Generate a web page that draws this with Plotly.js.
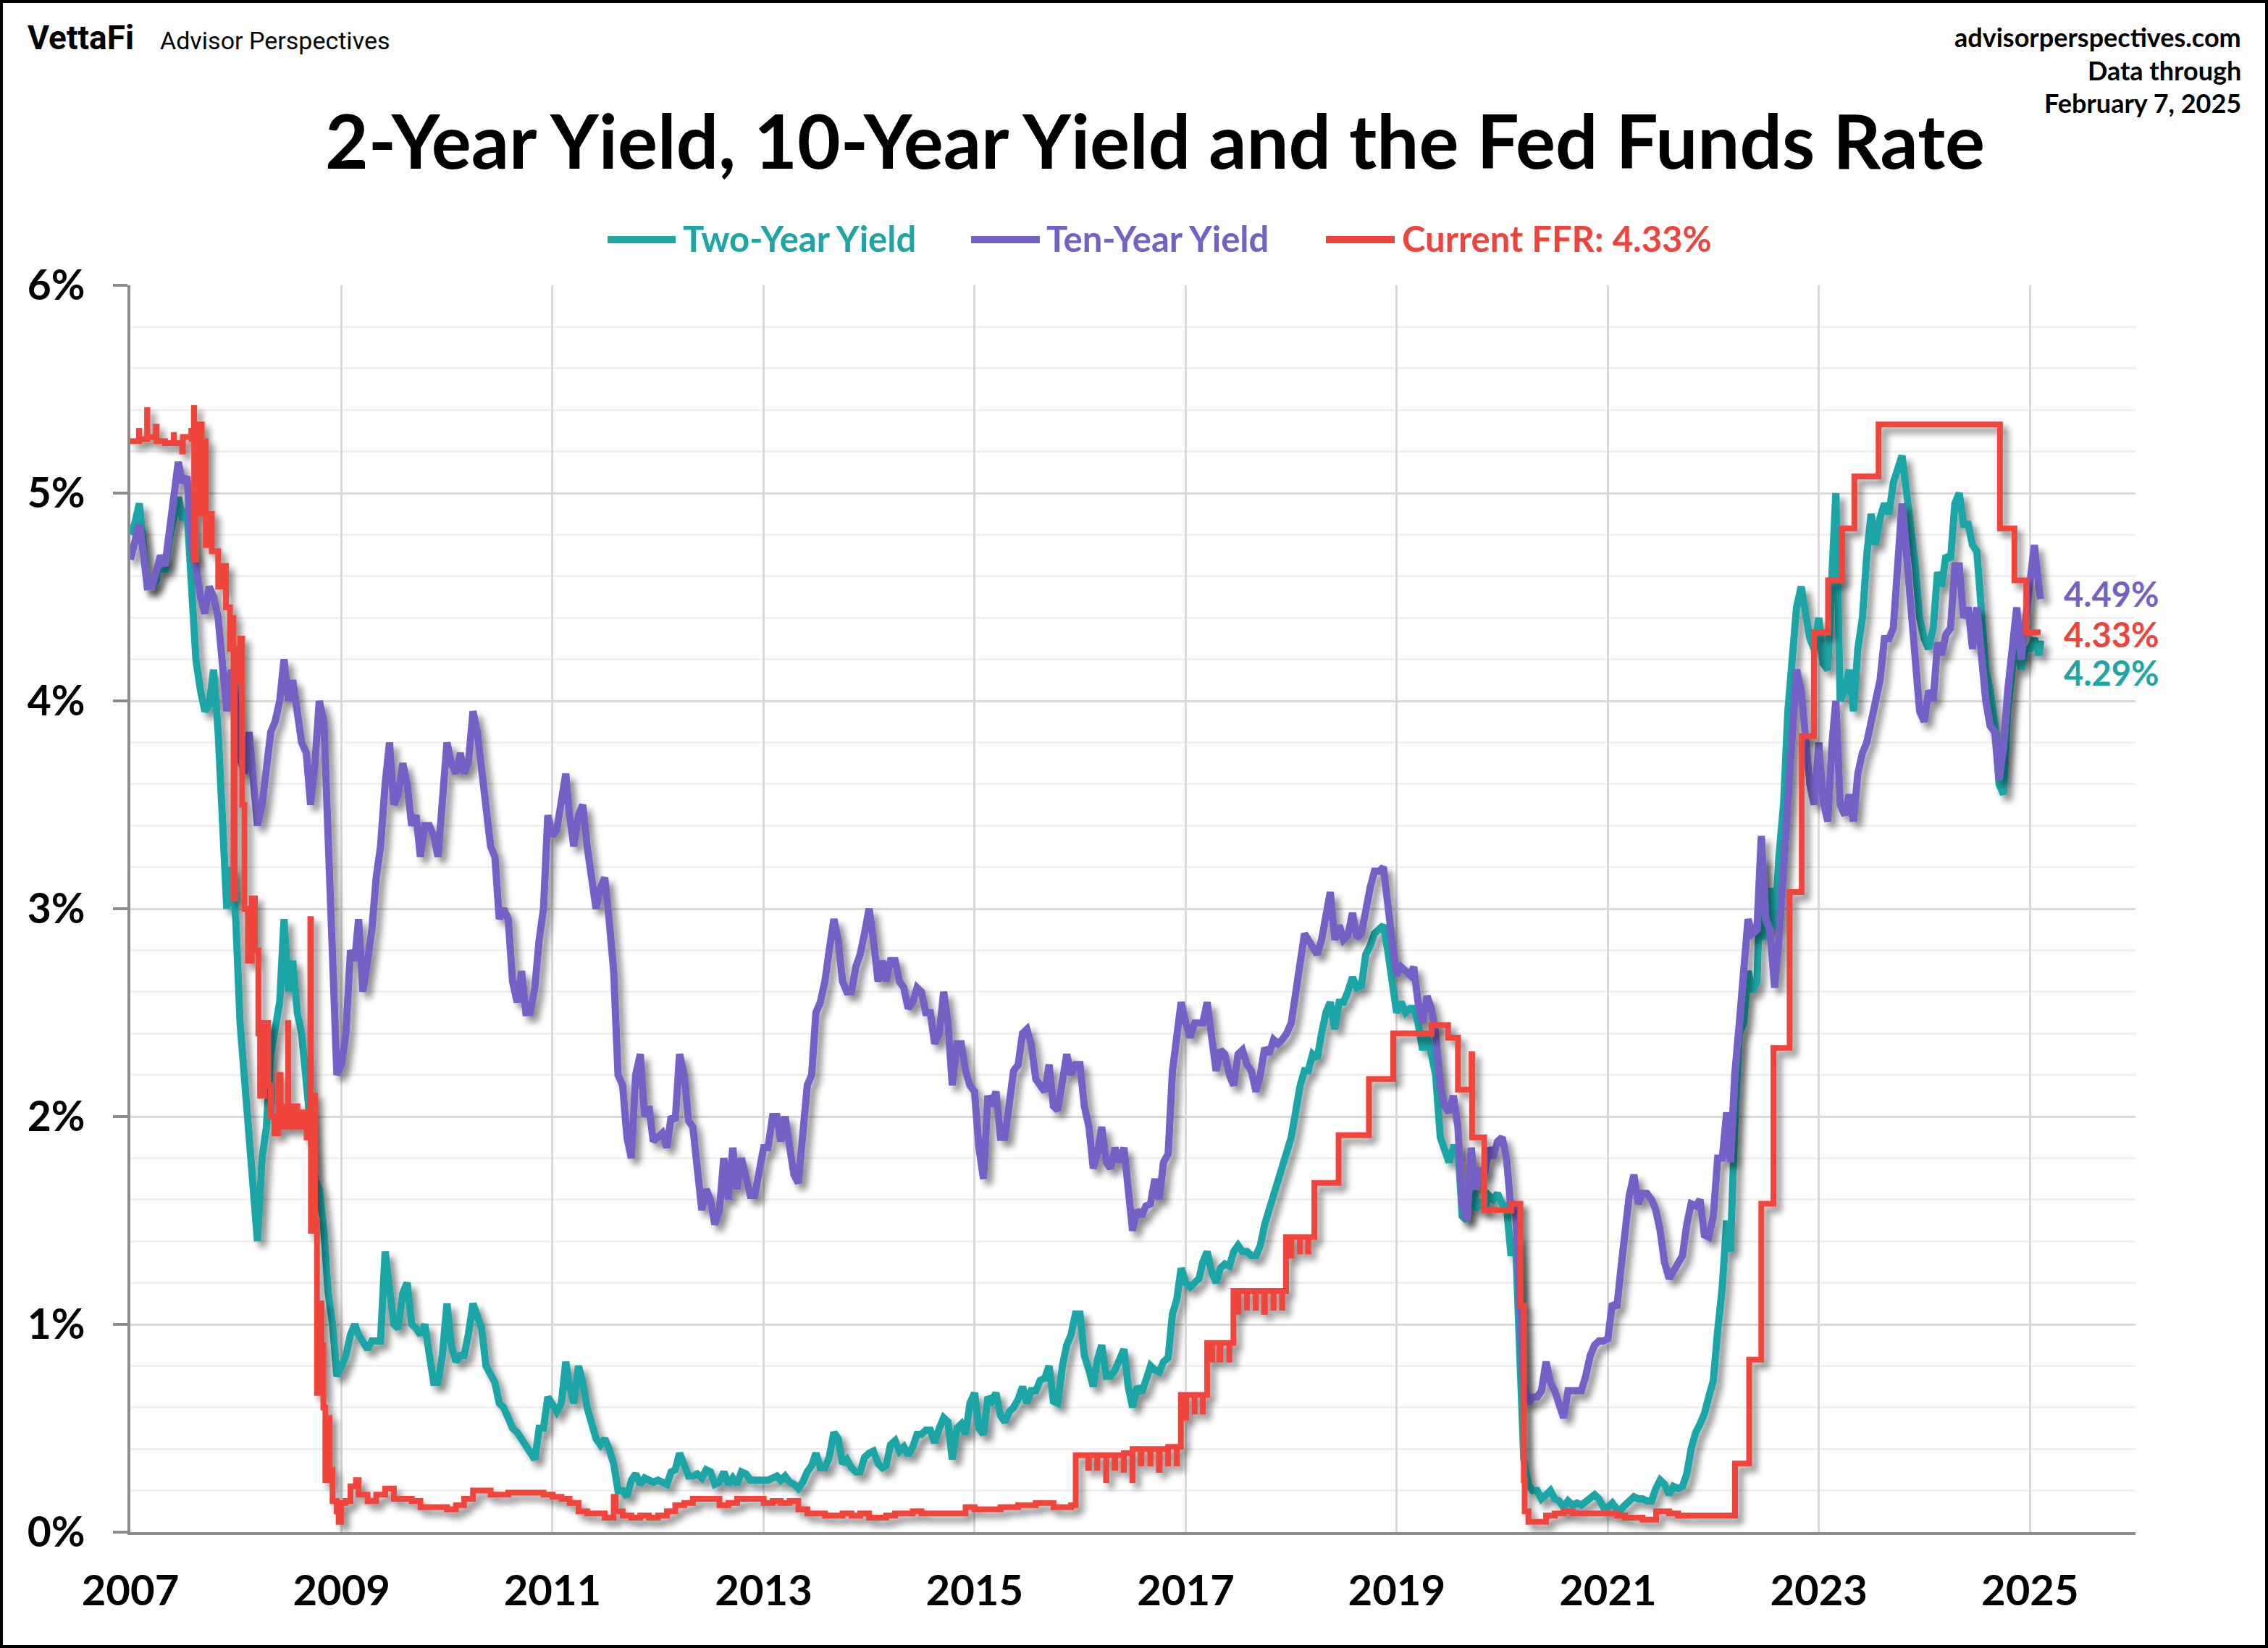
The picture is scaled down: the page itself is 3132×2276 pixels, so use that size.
<!DOCTYPE html>
<html>
<head>
<meta charset="utf-8">
<script src="https://cdn.plot.ly/plotly-3.0.1.min.js"></script>
<style>
  html, body { margin: 0; padding: 0; background: #fff; }
  #chart { width: 3132px; height: 2276px; }
  #frame { position: absolute; left: 0; top: 0; width: 3132px; height: 2276px;
           box-sizing: border-box; border: 4px solid #000; pointer-events: none; }
</style>
</head>
<body>
<div id="chart"></div>
<div id="frame"></div>
<script>
// Treasury yields sampled on the 1st and 16th of each month (last point: 2025-02-07), in percent.
const twoYearYield = [
  4.80,4.85, 4.95,4.75, 4.55,4.55, 4.58,4.70, 4.62,4.78, 4.90,4.98, 4.87,4.92, 4.55,4.20, 4.05,3.95, 3.98,4.15, 3.85,3.40, 3.00,3.20, // 2007
  2.95,2.45, 2.15,1.95, 1.65,1.40, 1.80,1.95, 2.30,2.45, 2.55,2.95, 2.60,2.75, 2.50,2.40, 2.20,1.95, 1.70,1.65, 1.45,1.15, 1.00,0.75, // 2008
  0.80,0.85, 0.95,1.00, 0.95,0.92, 0.88,0.92, 0.92,0.92, 1.35,1.20, 1.00,0.98, 1.15,1.20, 1.00,0.98, 0.95,1.00, 0.85,0.72, 0.72,0.85, // 2009
  1.10,0.90, 0.82,0.85, 0.85,0.95, 1.10,1.05, 0.98,0.80, 0.75,0.72, 0.62,0.60, 0.55,0.50, 0.48,0.45, 0.42,0.38, 0.35,0.50, 0.50,0.65, // 2010
  0.62,0.58, 0.62,0.82, 0.70,0.62, 0.80,0.72, 0.60,0.52, 0.45,0.42, 0.45,0.40, 0.33,0.20, 0.20,0.17, 0.25,0.28, 0.23,0.26, 0.25,0.24, // 2011
  0.25,0.24, 0.23,0.29, 0.30,0.38, 0.33,0.27, 0.27,0.28, 0.26,0.30, 0.29,0.23, 0.24,0.29, 0.23,0.26, 0.23,0.29, 0.28,0.25, 0.25,0.25, // 2012
  0.25,0.25, 0.26,0.27, 0.25,0.27, 0.24,0.23, 0.21,0.24, 0.29,0.32, 0.38,0.31, 0.31,0.36, 0.48,0.45, 0.33,0.35, 0.31,0.29, 0.29,0.36, // 2013
  0.38,0.39, 0.33,0.31, 0.32,0.42, 0.44,0.39, 0.41,0.37, 0.41,0.47, 0.47,0.49, 0.49,0.43, 0.50,0.55, 0.53,0.35, 0.50,0.52, 0.47,0.62, // 2014
  0.67,0.50, 0.47,0.65, 0.63,0.67, 0.56,0.53, 0.58,0.60, 0.64,0.70, 0.62,0.68, 0.68,0.73, 0.74,0.80, 0.63,0.62, 0.80,0.90, 0.95,1.05, // 2015
  1.05,0.85, 0.78,0.70, 0.83,0.90, 0.75,0.75, 0.78,0.82, 0.88,0.70, 0.60,0.70, 0.67,0.73, 0.80,0.78, 0.77,0.82, 0.84,1.05, 1.12,1.27, // 2016
  1.20,1.18, 1.20,1.22, 1.30,1.35, 1.25,1.20, 1.27,1.29, 1.28,1.35, 1.38,1.35, 1.35,1.33, 1.33,1.38, 1.48,1.55, 1.62,1.70, 1.78,1.84, // 2017
  1.90,2.02, 2.15,2.22, 2.22,2.30, 2.28,2.40, 2.50,2.55, 2.42,2.55, 2.55,2.60, 2.67,2.62, 2.63,2.78, 2.82,2.88, 2.90,2.92, 2.80,2.65, // 2018
  2.50,2.55, 2.50,2.52, 2.52,2.45, 2.32,2.40, 2.30,2.20, 1.90,1.85, 1.78,1.85, 1.85,1.52, 1.50,1.80, 1.55,1.60, 1.55,1.62, 1.60,1.63, // 2019
  1.58,1.57, 1.33,1.42, 0.90,0.35, 0.23,0.20, 0.20,0.16, 0.18,0.20, 0.16,0.15, 0.12,0.15, 0.13,0.14, 0.13,0.15, 0.16,0.18, 0.16,0.12, // 2020
  0.12,0.14, 0.11,0.11, 0.13,0.15, 0.17,0.16, 0.16,0.15, 0.15,0.21, 0.25,0.23, 0.18,0.22, 0.21,0.22, 0.28,0.40, 0.48,0.52, 0.57,0.65, // 2021
  0.73,0.97, 1.18,1.50, 1.35,1.95, 2.40,2.45, 2.70,2.60, 2.65,3.25, 2.85,3.10, 2.90,3.25, 3.50,3.95, 4.25,4.45, 4.55,4.40, 4.30,4.25, // 2022
  4.40,4.18, 4.15,4.62, 5.00,4.00, 4.05,4.15, 3.95,4.25, 4.40,4.70, 4.90,4.75, 4.88,4.95, 4.90,5.05, 5.12,5.18, 5.00,4.85, 4.65,4.40, // 2023
  4.30,4.25, 4.35,4.62, 4.55,4.70, 4.68,4.95, 5.00,4.85, 4.85,4.75, 4.72,4.45, 4.15,4.05, 3.90,3.60, 3.55,3.95, 4.20,4.35, 4.15,4.25, // 2024
  4.25,4.30, 4.22, 4.29 // 2025
];

const tenYearYield = [
  4.68,4.78, 4.85,4.70, 4.55,4.55, 4.62,4.70, 4.65,4.80, 4.95,5.15, 5.05,5.08, 4.75,4.65, 4.50,4.42, 4.55,4.50, 4.40,4.20, 3.95,4.15, // 2007
  4.02,3.72, 3.65,3.85, 3.60,3.40, 3.50,3.65, 3.85,3.90, 4.00,4.20, 4.00,4.10, 3.95,3.80, 3.75,3.50, 3.70,4.00, 3.90,3.40, 2.80,2.20, // 2008
  2.25,2.40, 2.80,2.75, 2.95,2.60, 2.75,2.90, 3.15,3.30, 3.60,3.80, 3.50,3.55, 3.70,3.60, 3.40,3.45, 3.25,3.40, 3.40,3.35, 3.25,3.55, // 2009
  3.80,3.70, 3.65,3.75, 3.65,3.70, 3.95,3.85, 3.65,3.45, 3.30,3.25, 2.95,3.00, 2.95,2.65, 2.55,2.70, 2.50,2.50, 2.62,2.85, 3.00,3.45, // 2010
  3.35,3.38, 3.50,3.65, 3.45,3.30, 3.45,3.50, 3.30,3.15, 3.00,3.10, 3.15,2.95, 2.70,2.20, 2.15,1.90, 1.80,2.20, 2.30,2.00, 2.05,1.88, // 2011
  1.90,1.92, 1.85,2.00, 1.98,2.30, 2.20,1.98, 1.95,1.75, 1.55,1.65, 1.60,1.48, 1.55,1.80, 1.60,1.85, 1.65,1.80, 1.70,1.62, 1.62,1.75, // 2012
  1.85,1.85, 2.00,2.00, 1.88,2.00, 1.85,1.72, 1.68,1.95, 2.15,2.20, 2.50,2.55, 2.65,2.80, 2.95,2.85, 2.65,2.60, 2.60,2.72, 2.78,2.88, // 2013
  3.00,2.85, 2.65,2.75, 2.65,2.75, 2.75,2.65, 2.62,2.52, 2.55,2.62, 2.60,2.50, 2.50,2.35, 2.40,2.60, 2.45,2.15, 2.35,2.35, 2.22,2.15, // 2014
  2.12,1.85, 1.70,2.10, 2.05,2.12, 1.90,1.90, 2.10,2.22, 2.25,2.40, 2.42,2.35, 2.18,2.15, 2.12,2.25, 2.05,2.03, 2.18,2.30, 2.20,2.25, // 2015
  2.25,2.05, 1.95,1.75, 1.82,1.95, 1.78,1.75, 1.85,1.78, 1.85,1.60, 1.45,1.55, 1.52,1.57, 1.58,1.70, 1.60,1.78, 1.82,2.22, 2.40,2.55, // 2016
  2.45,2.38, 2.45,2.45, 2.45,2.55, 2.38,2.22, 2.32,2.30, 2.20,2.15, 2.30,2.32, 2.25,2.22, 2.12,2.20, 2.33,2.30, 2.37,2.35, 2.37,2.40, // 2017
  2.45,2.60, 2.75,2.88, 2.85,2.82, 2.78,2.85, 2.98,3.08, 2.85,2.92, 2.85,2.87, 2.98,2.86, 2.88,3.00, 3.10,3.18, 3.18,3.20, 3.00,2.85, // 2018
  2.68,2.72, 2.70,2.68, 2.72,2.55, 2.45,2.58, 2.52,2.40, 2.15,2.05, 2.02,2.10, 1.95,1.58, 1.50,1.85, 1.65,1.75, 1.72,1.85, 1.80,1.88, // 2019
  1.90,1.80, 1.55,1.58, 1.15,0.72, 0.62,0.65, 0.65,0.68, 0.82,0.72, 0.68,0.62, 0.55,0.68, 0.68,0.68, 0.68,0.75, 0.85,0.90, 0.92,0.92, // 2020
  0.93,1.10, 1.08,1.28, 1.42,1.62, 1.72,1.58, 1.63,1.63, 1.60,1.55, 1.45,1.30, 1.22,1.26, 1.30,1.33, 1.48,1.58, 1.57,1.60, 1.43,1.42, // 2021
  1.52,1.80, 1.80,2.02, 1.78,2.20, 2.45,2.75, 2.95,2.88, 2.90,3.35, 2.95,2.90, 2.62,2.85, 3.20,3.60, 3.90,4.15, 4.05,3.78, 3.60,3.50, // 2022
  3.80,3.52, 3.42,3.80, 4.00,3.50, 3.45,3.55, 3.42,3.65, 3.75,3.80, 3.90,4.00, 4.10,4.30, 4.30,4.35, 4.65,4.95, 4.70,4.45, 4.25,3.95, // 2023
  3.90,4.05, 4.00,4.28, 4.22,4.32, 4.35,4.65, 4.65,4.40, 4.45,4.25, 4.45,4.20, 4.00,3.88, 3.85,3.62, 3.78,4.05, 4.30,4.45, 4.20,4.40, // 2024
  4.57,4.75, 4.55, 4.49 // 2025
];

const firstYear = 2007;
const lastDate = '2025-02-07';

// Effective fed funds rate: [date the level takes effect, rate], drawn as steps.
const fedFundsRate = [
  ['2007-01-01',5.25],['2007-01-31',5.30],['2007-02-01',5.26],['2007-02-28',5.40],['2007-03-01',5.27],['2007-03-30',5.32],
  ['2007-04-02',5.25],['2007-05-01',5.24],['2007-05-31',5.28],['2007-06-01',5.24],['2007-06-29',5.20],['2007-07-02',5.27],
  ['2007-07-31',5.30],['2007-08-01',5.26],['2007-08-09',5.41],['2007-08-10',4.68],['2007-08-15',5.05],['2007-08-22',4.90],
  ['2007-08-30',5.33],['2007-09-05',4.95],['2007-09-12',5.25],['2007-09-19',4.75],['2007-10-01',4.90],['2007-10-10',4.72],
  ['2007-11-01',4.55],['2007-11-13',4.65],['2007-11-28',4.45],['2007-12-12',4.25],['2007-12-21',4.40],['2007-12-24',3.05],
  ['2007-12-28',4.25],['2008-01-08',4.10],['2008-01-17',4.30],['2008-01-23',3.50],['2008-01-31',3.00],['2008-02-12',2.75],
  ['2008-02-25',3.05],['2008-03-07',2.80],['2008-03-19',2.40],['2008-03-25',2.10],['2008-04-08',2.45],['2008-04-22',2.15],
  ['2008-05-01',2.00],['2008-05-14',1.92],['2008-05-28',2.20],['2008-06-04',1.95],['2008-06-11',2.05],['2008-06-30',2.45],
  ['2008-07-01',1.95],['2008-07-16',2.05],['2008-08-01',1.95],['2008-08-20',2.02],['2008-09-02',1.90],['2008-09-15',2.95],
  ['2008-09-17',1.45],['2008-09-24',2.10],['2008-10-01',1.50],['2008-10-08',0.67],['2008-10-15',1.10],['2008-10-24',0.90],
  ['2008-10-30',0.60],['2008-11-06',0.25],['2008-11-14',0.55],['2008-11-20',0.30],['2008-12-01',0.15],['2008-12-15',0.10],
  ['2008-12-22',0.05],['2008-12-31',0.14],
  ['2009-01-15',0.15],['2009-02-01',0.22],['2009-02-20',0.25],['2009-03-01',0.18],['2009-04-01',0.15],['2009-05-01',0.18],
  ['2009-06-01',0.21],['2009-07-01',0.16],['2009-08-01',0.16],['2009-09-01',0.15],['2009-10-01',0.12],['2009-12-01',0.12],
  ['2010-01-01',0.11],['2010-02-01',0.13],['2010-03-01',0.16],['2010-04-01',0.20],['2010-06-01',0.18],['2010-08-01',0.19],
  ['2010-12-01',0.18],['2011-01-01',0.17],['2011-02-01',0.16],['2011-03-01',0.14],['2011-04-01',0.10],['2011-05-01',0.09],
  ['2011-07-01',0.07],['2011-08-01',0.17],['2011-08-08',0.10],['2011-09-01',0.08],['2011-10-01',0.07],['2011-11-01',0.08],
  ['2011-12-01',0.07],['2012-01-01',0.08],['2012-02-01',0.10],['2012-03-01',0.13],['2012-04-01',0.14],['2012-05-01',0.16],
  ['2012-08-01',0.13],['2012-09-01',0.14],['2012-10-01',0.16],['2013-01-01',0.14],['2013-02-01',0.15],['2013-03-01',0.14],
  ['2013-04-01',0.15],['2013-05-01',0.11],['2013-06-01',0.09],['2013-08-01',0.08],['2013-10-01',0.09],['2013-11-01',0.08],
  ['2013-12-01',0.09],['2014-01-01',0.07],['2014-03-01',0.08],['2014-04-01',0.09],['2014-06-01',0.10],['2014-07-01',0.09],
  ['2014-12-01',0.12],['2015-01-01',0.11],['2015-04-01',0.12],['2015-06-01',0.13],['2015-08-01',0.14],['2015-10-01',0.12],
  ['2015-12-01',0.13],['2015-12-17',0.37],
  ['2016-01-29',0.31],['2016-02-01',0.37],['2016-02-29',0.31],['2016-03-01',0.37],['2016-03-31',0.25],['2016-04-01',0.37],
  ['2016-04-29',0.31],['2016-05-02',0.37],['2016-05-31',0.30],['2016-06-01',0.38],['2016-06-30',0.25],['2016-07-01',0.40],
  ['2016-07-29',0.33],['2016-08-01',0.40],['2016-08-31',0.33],['2016-09-01',0.40],['2016-09-30',0.30],['2016-10-03',0.40],
  ['2016-10-31',0.33],['2016-11-01',0.41],['2016-11-30',0.33],['2016-12-01',0.41],['2016-12-15',0.66],['2016-12-30',0.55],
  ['2017-01-03',0.66],['2017-01-31',0.58],['2017-02-01',0.66],['2017-02-28',0.58],['2017-03-01',0.66],['2017-03-16',0.91],
  ['2017-03-31',0.83],['2017-04-03',0.91],['2017-04-28',0.83],['2017-05-01',0.91],['2017-05-31',0.83],['2017-06-01',0.91],
  ['2017-06-15',1.16],['2017-06-30',1.06],['2017-07-03',1.16],['2017-07-31',1.08],['2017-08-01',1.16],['2017-08-31',1.08],
  ['2017-09-01',1.16],['2017-09-29',1.06],['2017-10-02',1.16],['2017-10-31',1.08],['2017-11-01',1.16],['2017-11-30',1.08],
  ['2017-12-01',1.16],['2017-12-14',1.42],['2017-12-29',1.33],['2018-01-02',1.42],['2018-01-31',1.35],['2018-02-01',1.42],
  ['2018-02-28',1.35],['2018-03-01',1.42],['2018-03-22',1.68],['2018-06-14',1.91],['2018-09-27',2.18],['2018-12-20',2.40],
  ['2019-05-01',2.44],['2019-06-28',2.38],['2019-08-01',2.13],['2019-09-17',2.30],['2019-09-19',1.90],['2019-10-31',1.55],
  ['2020-02-01',1.58],['2020-03-04',1.09],['2020-03-16',0.25],['2020-03-19',0.10],['2020-04-01',0.05],['2020-06-01',0.08],
  ['2020-07-01',0.09],['2020-08-01',0.10],['2020-09-01',0.09],['2021-02-01',0.08],['2021-03-01',0.07],['2021-05-01',0.06],
  ['2021-06-17',0.10],['2021-08-01',0.09],['2021-09-01',0.08],['2022-03-17',0.33],['2022-05-05',0.83],['2022-06-16',1.58],
  ['2022-07-28',2.33],['2022-09-22',3.08],['2022-11-03',3.83],['2022-12-15',4.33],['2023-02-02',4.58],['2023-03-23',4.83],
  ['2023-05-04',5.08],['2023-07-27',5.33],['2024-09-19',4.83],['2024-11-08',4.58],['2024-12-19',4.33],['2025-02-07',4.33]
];

const seriesNames = ['Two-Year Yield', 'Ten-Year Yield', 'Current FFR'];
const seriesColors = ['#1ea5a6', '#7561c5', '#ef443c'];
const yearTicks = ['2007','2009','2011','2013','2015','2017','2019','2021','2023','2025'];

// Semi-monthly sample dates (1st and 16th), closing on the final observation date.
function sampleDates(n) {
  const out = [];
  for (let i = 0; i < n - 1; i++) {
    const y = firstYear + Math.floor(i / 24);
    const m = Math.floor((i % 24) / 2) + 1;
    const d = (i % 2) ? 16 : 1;
    out.push(y + '-' + String(m).padStart(2, '0') + '-' + String(d).padStart(2, '0'));
  }
  out.push(lastDate);
  return out;
}

const FONT = 'Lato, "Open Sans", sans-serif';
const W = 3132, H = 2276;
const M = { l: 180, r: 183, t: 394, b: 160 };
const plotW = W - M.l - M.r, plotH = H - M.t - M.b;
const paperX = px => (px - M.l) / plotW;
const paperY = py => (H - M.b - py) / plotH;

const ffrLast = fedFundsRate[fedFundsRate.length - 1][1];
const twoLast = twoYearYield[twoYearYield.length - 1];
const tenLast = tenYearYield[tenYearYield.length - 1];

const traces = [
  { x: sampleDates(twoYearYield.length), y: twoYearYield, type: 'scatter', mode: 'lines',
    name: seriesNames[0], line: { color: seriesColors[0], width: 10 }, showlegend: false },
  { x: sampleDates(tenYearYield.length), y: tenYearYield, type: 'scatter', mode: 'lines',
    name: seriesNames[1], line: { color: seriesColors[1], width: 10 }, showlegend: false },
  { x: fedFundsRate.map(r => r[0]), y: fedFundsRate.map(r => r[1]), type: 'scatter', mode: 'lines',
    name: seriesNames[2], line: { color: seriesColors[2], width: 8, shape: 'hv' }, showlegend: false }
];

// Legend row: a short colored bar followed by the series label.
const legendItems = [
  { x0: 839, x1: 933, tx: 941, text: seriesNames[0], color: seriesColors[0] },
  { x0: 1341, x1: 1436, tx: 1443, text: seriesNames[1], color: seriesColors[1] },
  { x0: 1831, x1: 1926, tx: 1934, text: seriesNames[2] + ': ' + ffrLast.toFixed(2) + '%', color: seriesColors[2] }
];
const legendY = 331;

const shapes = legendItems.map(it => ({
  type: 'line', xref: 'paper', yref: 'paper',
  x0: paperX(it.x0), x1: paperX(it.x1), y0: paperY(legendY), y1: paperY(legendY),
  line: { color: it.color, width: 10 }
}));

const annotations = legendItems.map(it => ({
  xref: 'paper', yref: 'paper', x: paperX(it.tx), y: paperY(legendY - 2),
  xanchor: 'left', yanchor: 'middle', showarrow: false, text: it.text,
  font: { family: FONT, size: 49, color: it.color, weight: 700 }
}));

// Header text
annotations.push(
  { xref: 'paper', yref: 'paper', x: paperX(36), y: paperY(52), xanchor: 'left', yanchor: 'middle',
    showarrow: false, text: 'VettaFi', font: { family: 'Roboto, sans-serif', size: 46, color: '#000', weight: 700 } },
  { xref: 'paper', yref: 'paper', x: paperX(219), y: paperY(56), xanchor: 'left', yanchor: 'middle',
    showarrow: false, text: 'Advisor Perspectives', font: { family: 'Roboto, sans-serif', size: 34, color: '#000' } },
  { xref: 'paper', yref: 'paper', x: paperX(3097), y: paperY(51), xanchor: 'right', yanchor: 'middle',
    showarrow: false, text: 'advisorperspectives.com', font: { family: FONT, size: 36, color: '#000', weight: 700 } },
  { xref: 'paper', yref: 'paper', x: paperX(3097), y: paperY(97), xanchor: 'right', yanchor: 'middle',
    showarrow: false, text: 'Data through', font: { family: FONT, size: 36, color: '#000', weight: 700 } },
  { xref: 'paper', yref: 'paper', x: paperX(3097), y: paperY(142), xanchor: 'right', yanchor: 'middle',
    showarrow: false, text: 'February 7, 2025', font: { family: FONT, size: 36, color: '#000', weight: 700 } }
);

// Latest-value labels at the right end of each series, nudged apart so they stay readable
const endLabelX = '2025-04-22';
[
  { v: tenLast, dy: 0.025, color: seriesColors[1] },
  { v: ffrLast, dy: -0.01, color: seriesColors[2] },
  { v: twoLast, dy: -0.155, color: seriesColors[0] }
].forEach(l => annotations.push({
  xref: 'x', yref: 'y', x: endLabelX, y: l.v + l.dy, xanchor: 'left', yanchor: 'middle',
  showarrow: false, text: l.v.toFixed(2) + '%', font: { family: FONT, size: 47, color: l.color, weight: 700 }
}));

const layout = {
  width: W, height: H,
  margin: M,
  paper_bgcolor: '#fff', plot_bgcolor: '#fff',
  showlegend: false,
  title: {
    text: '2-Year Yield, 10-Year Yield and the Fed Funds Rate',
    font: { family: FONT, size: 103, color: '#000', weight: 700 },
    xref: 'container', yref: 'container', x: 1595 / W, y: 1 - 197 / H,
    xanchor: 'center', yanchor: 'middle'
  },
  xaxis: {
    type: 'date', range: ['2007-01-01', '2026-01-01'],
    tickmode: 'array', tickvals: yearTicks.map(y => y + '-01-01'), ticktext: yearTicks,
    showgrid: true, gridcolor: '#d9d9d9', gridwidth: 3,
    showline: true, linecolor: '#8c8c8c', linewidth: 4,
    ticks: '', ticklabelstandoff: 27,
    tickfont: { family: FONT, size: 58, color: '#000', weight: 700 },
    zeroline: false
  },
  yaxis: {
    range: [0, 6], dtick: 1, tick0: 0, ticksuffix: '%',
    showgrid: true, gridcolor: '#d9d9d9', gridwidth: 3,
    minor: { dtick: 0.2, showgrid: true, gridcolor: '#f0f0f0', gridwidth: 3 },
    showline: true, linecolor: '#8c8c8c', linewidth: 4,
    ticks: 'outside', ticklen: 20, tickwidth: 4, tickcolor: '#8c8c8c',
    ticklabelstandoff: 27,
    tickfont: { family: FONT, size: 57, color: '#000', weight: 700 },
    zeroline: false
  },
  shapes: shapes,
  annotations: annotations
};

Plotly.newPlot('chart', traces, layout, { staticPlot: true, displayModeBar: false }).then(gd => {
  // soft drop shadow under the data lines
  const ns = 'http://www.w3.org/2000/svg';
  const svg = gd.querySelector('svg.main-svg');
  let defs = svg.querySelector('defs');
  if (!defs) { defs = document.createElementNS(ns, 'defs'); svg.insertBefore(defs, svg.firstChild); }
  const filter = document.createElementNS(ns, 'filter');
  filter.setAttribute('id', 'lineShadow');
  filter.setAttribute('x', '-5%'); filter.setAttribute('y', '-5%');
  filter.setAttribute('width', '110%'); filter.setAttribute('height', '112%');
  const fe = document.createElementNS(ns, 'feDropShadow');
  fe.setAttribute('dx', '7'); fe.setAttribute('dy', '8');
  fe.setAttribute('stdDeviation', '5');
  fe.setAttribute('flood-color', '#000'); fe.setAttribute('flood-opacity', '0.45');
  filter.appendChild(fe);
  defs.appendChild(filter);
  gd.querySelectorAll('.scatterlayer .trace').forEach(t => t.setAttribute('filter', 'url(#lineShadow)'));
});
</script>
</body>
</html>
